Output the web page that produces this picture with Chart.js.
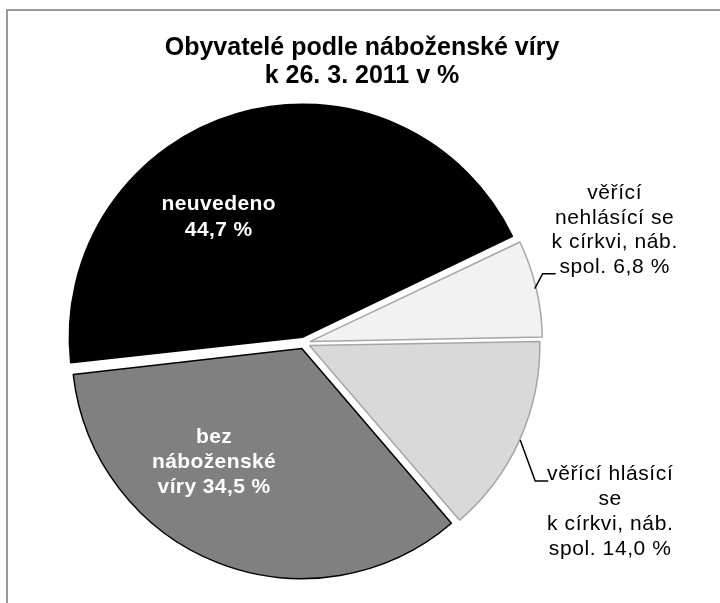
<!DOCTYPE html>
<html>
<head>
<meta charset="utf-8">
<script src="https://cdn.jsdelivr.net/npm/chart.js@4.4.0/dist/chart.umd.min.js"></script>
<style>
  html, body { margin: 0; padding: 0; background: #fff; }
  #wrap { position: relative; width: 720px; height: 603px; overflow: hidden; }
  #frame { position: absolute; left: 6px; top: 9px; width: 900px; height: 900px; border: 2px solid #9a9a9a; }
  #chart { position: absolute; left: 0; top: 0; }
</style>
</head>
<body>
<div id="wrap">
  <div id="frame"></div>
  <canvas id="chart" width="720" height="603"></canvas>
</div>
<script>
const titleLines = ['Obyvatelé podle náboženské víry', 'k 26. 3. 2011 v %'];
const categories = [
    'věřící nehlásící se k církvi, náb. spol.',
    'věřící hlásící se k církvi, náb. spol.',
    'bez náboženské víry',
    'neuvedeno'
];
const shares = [6.8, 14.0, 34.5, 44.7];
// category names broken into lines as on the chart; the value goes after the last line
const labelLines = [
    ['věřící', 'nehlásící se', 'k církvi, náb.', 'spol.'],
    ['věřící hlásící', 'se', 'k církvi, náb.', 'spol.'],
    ['bez', 'náboženské', 'víry'],
    ['neuvedeno', '']
];

const fmt = v => v.toFixed(1).replace('.', ',') + ' %';

const sliceLabels = {
    id: 'sliceLabels',
    afterDraw(chart, args, opts) {
        const ctx = chart.ctx;
        ctx.save();

        // title
        ctx.fillStyle = '#000';
        ctx.textAlign = 'center';
        ctx.textBaseline = 'alphabetic';
        ctx.font = 'bold 25px "Liberation Sans", Arial, sans-serif';
        ctx.fillText(titleLines[0], opts.titleX, opts.titleY);
        ctx.fillText(titleLines[1], opts.titleX, opts.titleY + 28);

        const arcs = chart.getDatasetMeta(0).data;
        arcs.forEach((arc, i) => {
            const spec = opts.items[i];
            const p = arc.getProps(['x', 'y', 'startAngle', 'endAngle', 'outerRadius'], true);
            const shift = (arc.options.offset || 0) / 4;
            const mid = (p.startAngle + p.endAngle) / 2;
            const cx = p.x + Math.cos(mid) * shift;
            const cy = p.y + Math.sin(mid) * shift;
            const lines = labelLines[i].slice();
            const last = lines.length - 1;
            lines[last] = lines[last] ? lines[last] + ' ' + fmt(shares[i]) : fmt(shares[i]);

            ctx.textBaseline = 'middle';
            ctx.textAlign = 'center';
            if (spec.inside) {
                const a = p.startAngle + spec.frac * (p.endAngle - p.startAngle);
                const r = spec.rFrac * p.outerRadius;
                const x = cx + Math.cos(a) * r;
                const y = cy + Math.sin(a) * r;
                ctx.fillStyle = '#fff';
                ctx.font = 'bold 21px "Liberation Sans", Arial, sans-serif';
                ctx.letterSpacing = '0.4px';
                const top = y - (lines.length - 1) * spec.lh / 2;
                lines.forEach((t, k) => ctx.fillText(t, x, top + k * spec.lh));
            } else {
                const sx = cx + Math.cos(mid) * (p.outerRadius + 2);
                const sy = cy + Math.sin(mid) * (p.outerRadius + 2);
                const ex = sx + spec.elbow[0], ey = sy + spec.elbow[1];
                const hx = ex + spec.hLen;
                ctx.strokeStyle = '#000';
                ctx.lineWidth = 1.5;
                ctx.beginPath();
                ctx.moveTo(sx, sy);
                ctx.lineTo(ex, ey);
                ctx.lineTo(hx, ey);
                ctx.stroke();
                ctx.fillStyle = '#000';
                ctx.font = '21px "Liberation Sans", Arial, sans-serif';
                ctx.letterSpacing = '0.6px';
                const tx = hx + spec.text[0], ty = ey + spec.text[1];
                lines.forEach((t, k) => ctx.fillText(t, tx, ty + k * spec.lh));
            }
        });
        ctx.restore();
    }
};

new Chart(document.getElementById('chart'), {
    type: 'pie',
    data: {
        labels: categories,
        datasets: [{
            data: shares,
            backgroundColor: ['#f2f2f2', '#d9d9d9', '#808080', '#000000'],
            borderColor: ['#a6a6a6', '#a6a6a6', '#000000', '#000000'],
            borderWidth: 1.5,
            offset: 24
        }]
    },
    options: {
        responsive: false,
        animation: false,
        rotation: 64.5,
        radius: 229,
        layout: { padding: { left: 0, right: 112, top: 83, bottom: 0 } },
        plugins: {
            legend: { display: false },
            tooltip: { enabled: false },
            sliceLabels: {
                titleX: 362,
                titleY: 55,
                items: [
                    { inside: false, elbow: [8, -15], hLen: 13, text: [59, -80], lh: 24.5 },
                    { inside: false, elbow: [15, 41], hLen: 13, text: [62, -7], lh: 25 },
                    { inside: true, frac: 0.631, rFrac: 0.626, lh: 25 },
                    { inside: true, frac: 0.383, rFrac: 0.64, lh: 26 }
                ]
            }
        }
    },
    plugins: [sliceLabels]
});
</script>
</body>
</html>
